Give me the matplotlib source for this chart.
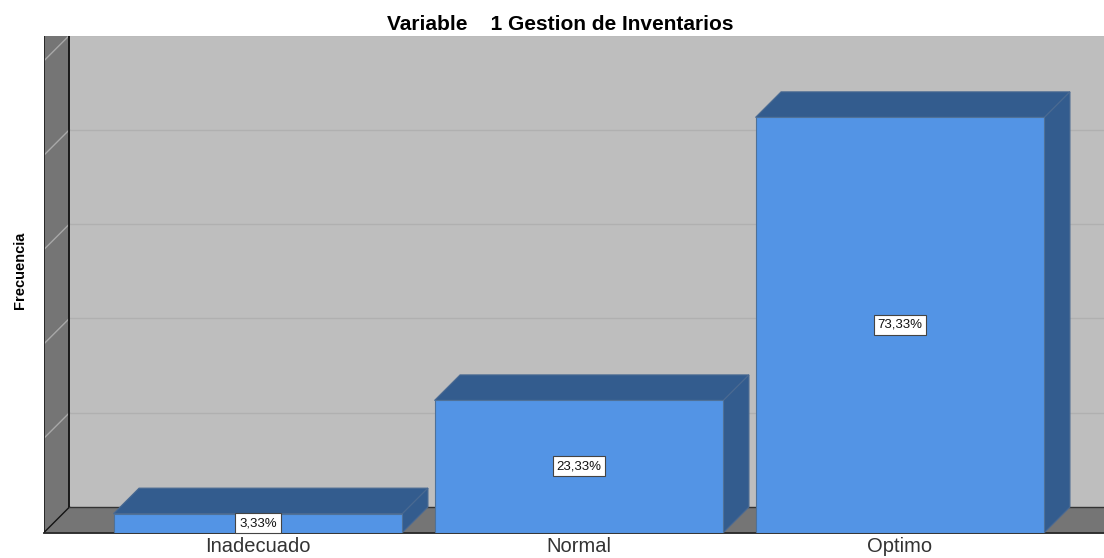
"""Variable 1 Gestion de Inventarios: barras 3D estilo SPSS."""
import matplotlib
matplotlib.use('Agg')
import matplotlib.pyplot as plt
import numpy as np

plt.rcParams['font.family'] = ['Liberation Sans', 'DejaVu Sans']

categorias = ['Inadecuado', 'Normal', 'Optimo']
frecuencias = [1, 7, 22]
etiquetas = ['3,33%', '23,33%', '73,33%']
marcas_y = [0, 5, 10, 15, 20, 25]

ancho_fig, alto_fig = 1104, 558
izq, der, arriba, abajo = 44, 1104, 36, 532.5  # marco en px
ancho_barra = 0.9
prof_px = 25.5

c_frente = '#5394e5'
c_oscuro = '#335c8e'
c_fondo = '#bebebe'
c_pared = '#757575'

fig = plt.figure(figsize=(ancho_fig / 100, alto_fig / 100), dpi=100)
ax = fig.add_axes([izq / ancho_fig, 1 - abajo / alto_fig,
                   (der - izq) / ancho_fig, (abajo - arriba) / alto_fig])

# px por unidad: 321 px entre barras, 18.87 px por caso
ppx, ppy = 321, 18.87
ax.set_xlim((izq - 258) / ppx, (der - 258) / ppx)
ax.set_ylim(0, (abajo - arriba) / ppy)
dx, dy = prof_px / ppx, prof_px / ppy
x0, x1 = ax.get_xlim()
y_tope = ax.get_ylim()[1]

# pared de fondo, piso y pared lateral
ax.fill([x0 + dx, x1, x1, x0 + dx], [dy, dy, y_tope, y_tope], color=c_fondo, lw=0, zorder=1)
ax.fill([x0, x0 + dx, x1, x1], [0, dy, dy, 0], color=c_pared, lw=0, zorder=1)
ax.fill([x0, x0 + dx, x0 + dx, x0], [0, dy, y_tope, y_tope], color=c_pared, lw=0, zorder=1)

# lineas de grilla
for m in marcas_y[1:]:
    ax.plot([x0 + dx, x1], [m + dy, m + dy], color='#b0b0b0', lw=1, zorder=2)
    ax.plot([x0, x0 + dx], [m, m + dy], color='#a8a8a8', lw=1, zorder=2)

# bordes negros del marco
ax.plot([x0 + dx, x0 + dx], [dy, y_tope], color='#111111', lw=1.3, zorder=3)
ax.plot([x0, x0], [0, y_tope], color='#222222', lw=1.3, zorder=3)
ax.plot([x0, x0 + dx], [0, dy], color='#111111', lw=1, zorder=3)
ax.plot([x0 + dx, x1], [dy, dy], color='#333333', lw=1, zorder=3)
ax.plot([x0, x1], [0, 0], color='#222222', lw=1.3, zorder=3, clip_on=False)

# barras
posiciones = np.arange(len(categorias))
for p, f, et in zip(posiciones, frecuencias, etiquetas):
    a, b = p - ancho_barra / 2, p + ancho_barra / 2
    ax.fill([a, a + dx, b + dx, b], [f, f + dy, f + dy, f],
            facecolor=c_oscuro, edgecolor='#4a6a92', lw=0.8, zorder=4)
    ax.fill([b, b + dx, b + dx, b], [0, dy, f + dy, f],
            facecolor=c_oscuro, edgecolor='#4a6a92', lw=0.8, zorder=4)
    ax.bar(p, f, width=ancho_barra, color=c_frente, edgecolor='#4f7198', lw=0.8, zorder=5)
    ax.text(p, f / 2, et, ha='center', va='center', fontsize=9.5, color='#111111', zorder=6,
            bbox=dict(boxstyle='square,pad=0.3', facecolor='white', edgecolor='#444444', lw=0.8))

for s in ax.spines.values():
    s.set_visible(False)
ax.set_xticks(posiciones, categorias)
ax.set_yticks([])
ax.tick_params(axis='x', length=0, pad=3.5, labelsize=14.5, labelcolor='#333333')
ax.patch.set_visible(False)

fig.text(560.5 / ancho_fig, 1 - 24 / alto_fig, 'Variable    1 Gestion de Inventarios',
         ha='center', va='center', fontsize=15, fontweight='bold')
fig.text(20 / ancho_fig, 1 - 270 / alto_fig, 'Frecuencia', rotation=90,
         ha='center', va='center', fontsize=10.5, fontweight='bold')

fig.savefig('out.png', dpi=100)
